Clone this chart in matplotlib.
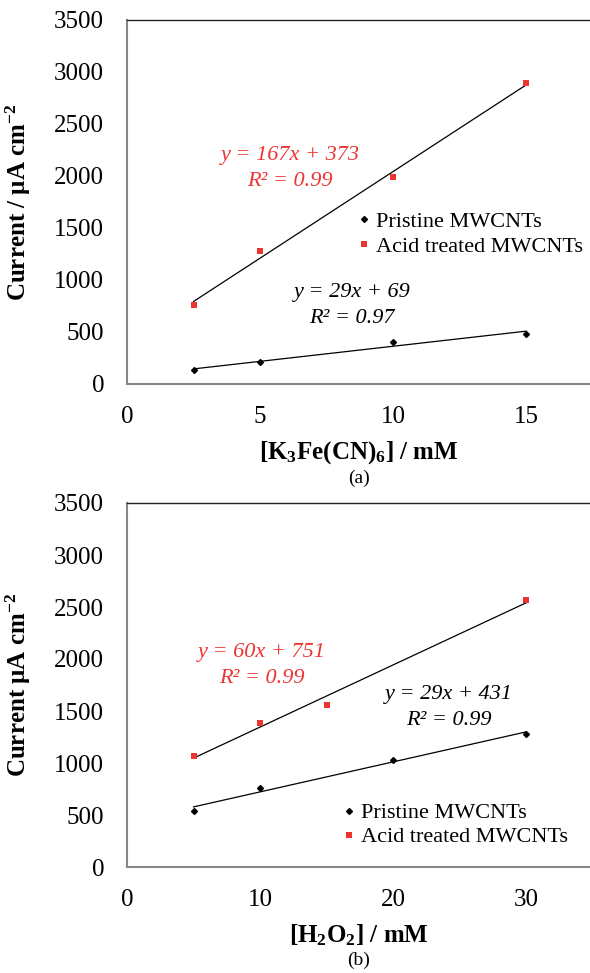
import numpy as np
import matplotlib
matplotlib.use("Agg")
import matplotlib.pyplot as plt

plt.rcParams['font.family'] = ['Liberation Serif', 'DejaVu Serif']
plt.rcParams['mathtext.fontset'] = 'custom'
plt.rcParams['mathtext.rm'] = 'Liberation Serif'
plt.rcParams['mathtext.it'] = 'Liberation Serif:italic'
plt.rcParams['mathtext.bf'] = 'Liberation Serif:bold'

RED = '#EE3333'

# Panel (a): K3Fe(CN)6
conc_a = [2.5, 5, 10, 15]
pristine_a = [135, 210, 404, 485]
acid_a = [760, 1278, 1990, 2894]

# Panel (b): H2O2
conc_b_pristine = [5, 10, 20, 30]
pristine_b = [540, 760, 1030, 1280]
conc_b_acid = [5, 10, 15, 30]
acid_b = [1067, 1385, 1558, 2567]

eq_a_acid = ["y = 167x + 373", "R² = 0.99"]
eq_a_pris = ["y = 29x + 69", "R² = 0.97"]
eq_b_acid = ["y = 60x + 751", "R² = 0.99"]
eq_b_pris = ["y = 29x + 431", "R² = 0.99"]

legend_labels = ["Pristine MWCNTs", "Acid treated MWCNTs"]
yticks = [0, 500, 1000, 1500, 2000, 2500, 3000, 3500]

fig = plt.figure(figsize=(5.9, 9.73), dpi=100)
W, H = 590, 973

def make_ax(top_px, bot_px):
    left = 127 / W
    return fig.add_axes([left, 1 - bot_px / H, 1 - left, (bot_px - top_px) / H])

def style(ax, xticks, xlim):
    ax.set_xlim(*xlim)
    ax.set_ylim(0, 3500)
    ax.set_xticks(xticks)
    ax.set_yticks(yticks)
    ax.tick_params(length=0, labelsize=18, pad=16)
    ax.tick_params(axis='y', pad=16.5)
    ax.spines['left'].set_color('#888888')
    ax.spines['bottom'].set_color('#888888')
    ax.spines['left'].set_linewidth(1.5)
    ax.spines['bottom'].set_linewidth(1.5)
    ax.spines['top'].set_color('#222222')
    ax.spines['top'].set_linewidth(1.0)
    ax.spines['right'].set_visible(False)

def trend(ax, x, y):
    p = np.polyfit(x, y, 1)
    xs = np.array([min(x), max(x)])
    ax.plot(xs, np.polyval(p, xs), color='black', lw=0.9, zorder=1)

def eq(ax, x, y0, y1, lines, color):
    ax.text(x, y0, lines[0], color=color, fontsize=16, style='italic', ha='center', va='center')
    ax.text(x, y1, lines[1], color=color, fontsize=16, style='italic', ha='center', va='center')

def series(ax, xp, yp, xa, ya):
    ax.plot(xp, yp, 'D', color='black', ms=3.0, ls='none', label=legend_labels[0], zorder=3)
    ax.plot(xa, ya, 's', color=RED, ms=4.2, mew=0, ls='none', label=legend_labels[1], zorder=3)

# ---------- Panel a ----------
ax1 = make_ax(20, 384)
style(ax1, [0, 5, 10, 15], (0, 17.4))
trend(ax1, conc_a, pristine_a)
trend(ax1, conc_a, acid_a)
series(ax1, conc_a, pristine_a, conc_a, acid_a)
eq(ax1, 6.13, 2200, 1945, eq_a_acid, RED)
eq(ax1, 8.46, 875, 625, eq_a_pris, 'black')
ax1.legend(loc='upper left', bbox_to_anchor=(0.497, 0.474), frameon=False, fontsize=16,
           handlelength=0.6, handletextpad=0.23, labelspacing=0.2, borderpad=0, borderaxespad=0)
ax1.set_xlabel(r'[K$_{\mathbf{3}}$Fe(CN)$_{\mathbf{6}}$] / mM', fontsize=18, fontweight='bold', labelpad=8)
ax1.set_ylabel(r'Current / μA cm$^{\mathbf{-2}}$', fontsize=18, fontweight='bold')
ax1.yaxis.set_label_coords(-0.202, 0.5)
fig.text(359 / W, 1 - 478 / H, '(a)', fontsize=14, ha='center', va='center')

# ---------- Panel b ----------
ax2 = make_ax(503, 867)
style(ax2, [0, 10, 20, 30], (0, 34.8))
trend(ax2, conc_b_pristine, pristine_b)
trend(ax2, conc_b_acid, acid_b)
series(ax2, conc_b_pristine, pristine_b, conc_b_acid, acid_b)
eq(ax2, 10.15, 2058, 1808, eq_b_acid, RED)
eq(ax2, 24.2, 1663, 1413, eq_b_pris, 'black')
ax2.legend(loc='upper left', bbox_to_anchor=(0.4655, 0.176), frameon=False, fontsize=16,
           handlelength=0.6, handletextpad=0.23, labelspacing=0.15, borderpad=0, borderaxespad=0)
ax2.set_xlabel(r'[H$_{\mathbf{2}}$O$_{\mathbf{2}}$] / mM', fontsize=18, fontweight='bold', labelpad=8)
ax2.set_ylabel(r'Current μA cm$^{\mathbf{-2}}$', fontsize=18, fontweight='bold')
ax2.yaxis.set_label_coords(-0.202, 0.5)
fig.text(359 / W, 1 - 960 / H, '(b)', fontsize=14, ha='center', va='center')

fig.savefig('out.png', dpi=100)
